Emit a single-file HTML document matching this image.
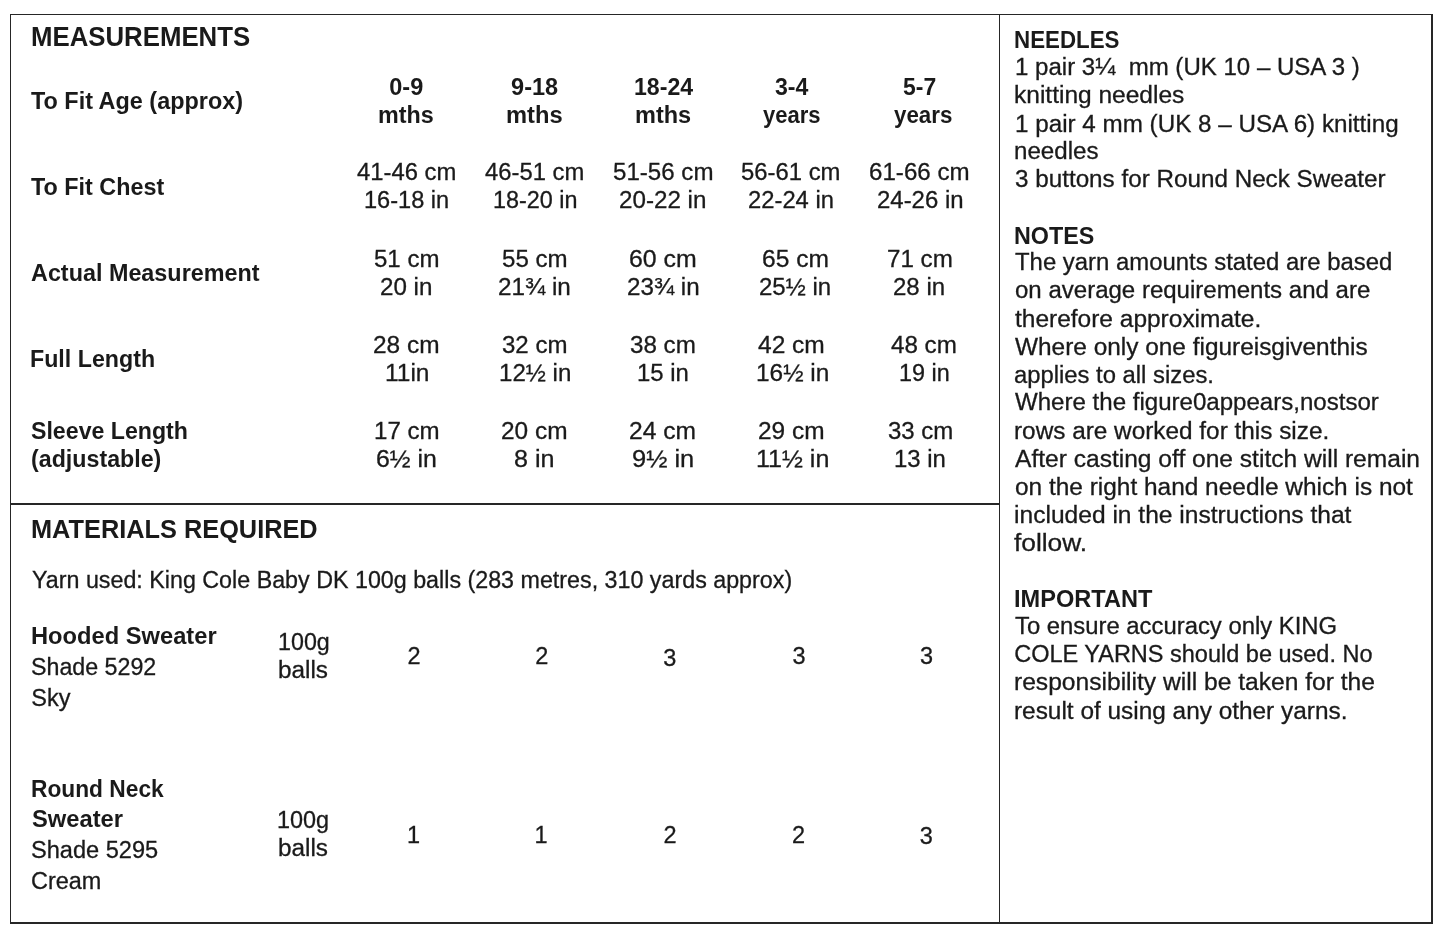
<!DOCTYPE html>
<html><head><meta charset="utf-8"><style>
html,body{margin:0;padding:0;background:#fff;width:1445px;height:937px;overflow:hidden}
body{position:relative;font-family:"Liberation Sans",sans-serif;color:#1a1a1a;filter:grayscale(1)}
span{position:absolute;white-space:pre;line-height:normal;transform-origin:0 0;-webkit-text-stroke:0.3px #1a1a1a}
span.b{-webkit-text-stroke:0}
.ln{position:absolute;background:#262626}
</style></head><body>
<div class="ln" style="left:9.5px;top:13.8px;width:1423.4px;height:1.4px"></div>
<div class="ln" style="left:9.5px;top:922.4px;width:1423.4px;height:1.4px"></div>
<div class="ln" style="left:9.5px;top:13.7px;width:1.6px;height:910.2px"></div>
<div class="ln" style="left:1431.3px;top:13.7px;width:1.6px;height:910.2px"></div>
<div class="ln" style="left:998.6px;top:13.7px;width:1.6px;height:910.2px"></div>
<div class="ln" style="left:9.5px;top:503.2px;width:990px;height:1.4px"></div>
<span class="b" style="left:31.47px;top:21.65px;font-size:26.9px;font-weight:bold;transform:scaleX(0.9587)">MEASUREMENTS</span>
<span class="b" style="left:31.10px;top:87.63px;font-size:23.5px;font-weight:bold;transform:scaleX(0.9963)">To Fit Age (approx)</span>
<span class="b" style="left:31.10px;top:174.13px;font-size:23.5px;font-weight:bold;transform:scaleX(0.9936)">To Fit Chest</span>
<span class="b" style="left:30.50px;top:259.83px;font-size:23.5px;font-weight:bold;transform:scaleX(0.9944)">Actual Measurement</span>
<span class="b" style="left:30.12px;top:345.83px;font-size:23.5px;font-weight:bold;transform:scaleX(0.9877)">Full Length</span>
<span class="b" style="left:31.11px;top:418.03px;font-size:23.5px;font-weight:bold;transform:scaleX(0.9852)">Sleeve Length</span>
<span class="b" style="left:30.52px;top:446.03px;font-size:23.5px;font-weight:bold;transform:scaleX(0.9883)">(adjustable)</span>
<span class="b" style="left:389.30px;top:73.63px;font-size:23.5px;font-weight:bold">0-9</span>
<span class="b" style="left:377.91px;top:101.53px;font-size:23.5px;font-weight:bold;transform:scaleX(0.9919)">mths</span>
<span class="b" style="left:511.10px;top:73.63px;font-size:23.5px;font-weight:bold">9-18</span>
<span class="b" style="left:506.29px;top:101.53px;font-size:23.5px;font-weight:bold;transform:scaleX(1.0086)">mths</span>
<span class="b" style="left:633.93px;top:73.63px;font-size:23.5px;font-weight:bold;transform:scaleX(0.9846)">18-24</span>
<span class="b" style="left:635.00px;top:101.53px;font-size:23.5px;font-weight:bold">mths</span>
<span class="b" style="left:775.21px;top:73.63px;font-size:23.5px;font-weight:bold;transform:scaleX(0.9831)">3-4</span>
<span class="b" style="left:763.14px;top:101.53px;font-size:23.5px;font-weight:bold;transform:scaleX(0.9368)">years</span>
<span class="b" style="left:903.21px;top:73.63px;font-size:23.5px;font-weight:bold;transform:scaleX(0.9770)">5-7</span>
<span class="b" style="left:894.23px;top:101.53px;font-size:23.5px;font-weight:bold;transform:scaleX(0.9500)">years</span>
<span style="left:356.59px;top:158.73px;font-size:23.5px;transform:scaleX(1.0141)">41-46 cm</span>
<span style="left:363.99px;top:186.53px;font-size:23.5px;transform:scaleX(1.0035)">16-18 in</span>
<span style="left:485.19px;top:158.73px;font-size:23.5px;transform:scaleX(1.0130)">46-51 cm</span>
<span style="left:493.21px;top:186.53px;font-size:23.5px;transform:scaleX(0.9949)">18-20 in</span>
<span style="left:613.18px;top:158.73px;font-size:23.5px;transform:scaleX(1.0255)">51-56 cm</span>
<span style="left:619.45px;top:186.53px;font-size:23.5px;transform:scaleX(1.0292)">20-22 in</span>
<span style="left:741.49px;top:158.73px;font-size:23.5px;transform:scaleX(1.0151)">56-61 cm</span>
<span style="left:748.38px;top:186.53px;font-size:23.5px;transform:scaleX(1.0121)">22-24 in</span>
<span style="left:869.26px;top:158.73px;font-size:23.5px;transform:scaleX(1.0268)">61-66 cm</span>
<span style="left:876.67px;top:186.53px;font-size:23.5px;transform:scaleX(1.0194)">24-26 in</span>
<span style="left:373.69px;top:245.63px;font-size:23.5px;transform:scaleX(1.0228)">51 cm</span>
<span style="left:380.15px;top:273.63px;font-size:23.5px;transform:scaleX(1.0282)">20 in</span>
<span style="left:502.28px;top:245.63px;font-size:23.5px;transform:scaleX(1.0244)">55 cm</span>
<span style="left:498.25px;top:273.63px;font-size:23.5px;transform:scaleX(1.0319)">21¾ in</span>
<span style="left:628.60px;top:245.63px;font-size:23.5px;transform:scaleX(1.0590)">60 cm</span>
<span style="left:626.85px;top:273.63px;font-size:23.5px;transform:scaleX(1.0289)">23¾ in</span>
<span style="left:761.72px;top:245.63px;font-size:23.5px;transform:scaleX(1.0460)">65 cm</span>
<span style="left:758.86px;top:273.63px;font-size:23.5px;transform:scaleX(1.0215)">25½ in</span>
<span style="left:887.15px;top:245.63px;font-size:23.5px;transform:scaleX(1.0281)">71 cm</span>
<span style="left:893.46px;top:273.63px;font-size:23.5px;transform:scaleX(1.0220)">28 in</span>
<span style="left:372.93px;top:332.13px;font-size:23.5px;transform:scaleX(1.0395)">28 cm</span>
<span style="left:384.93px;top:360.33px;font-size:23.5px;transform:scaleX(1.0410)">11in</span>
<span style="left:502.49px;top:332.13px;font-size:23.5px;transform:scaleX(1.0228)">32 cm</span>
<span style="left:498.76px;top:360.33px;font-size:23.5px;transform:scaleX(1.0245)">12½ in</span>
<span style="left:630.48px;top:332.13px;font-size:23.5px;transform:scaleX(1.0292)">38 cm</span>
<span style="left:637.47px;top:360.33px;font-size:23.5px;transform:scaleX(1.0178)">15 in</span>
<span style="left:757.97px;top:332.13px;font-size:23.5px;transform:scaleX(1.0436)">42 cm</span>
<span style="left:755.64px;top:360.33px;font-size:23.5px;transform:scaleX(1.0378)">16½ in</span>
<span style="left:890.88px;top:332.13px;font-size:23.5px;transform:scaleX(1.0292)">48 cm</span>
<span style="left:898.71px;top:360.33px;font-size:23.5px;transform:scaleX(0.9948)">19 in</span>
<span style="left:373.86px;top:417.93px;font-size:23.5px;transform:scaleX(1.0248)">17 cm</span>
<span style="left:376.00px;top:445.93px;font-size:23.5px;transform:scaleX(1.0592)">6½ in</span>
<span style="left:501.43px;top:417.93px;font-size:23.5px;transform:scaleX(1.0395)">20 cm</span>
<span style="left:514.39px;top:445.93px;font-size:23.5px;transform:scaleX(1.0696)">8 in</span>
<span style="left:629.42px;top:417.93px;font-size:23.5px;transform:scaleX(1.0460)">24 cm</span>
<span style="left:631.56px;top:445.93px;font-size:23.5px;transform:scaleX(1.0832)">9½ in</span>
<span style="left:758.23px;top:417.93px;font-size:23.5px;transform:scaleX(1.0395)">29 cm</span>
<span style="left:755.59px;top:445.93px;font-size:23.5px;transform:scaleX(1.0654)">11½ in</span>
<span style="left:887.79px;top:417.93px;font-size:23.5px;transform:scaleX(1.0212)">33 cm</span>
<span style="left:894.27px;top:445.93px;font-size:23.5px;transform:scaleX(1.0178)">13 in</span>
<span class="b" style="left:31.07px;top:513.70px;font-size:26.4px;font-weight:bold;transform:scaleX(0.9600)">MATERIALS REQUIRED</span>
<span style="left:31.91px;top:566.93px;font-size:23.5px;transform:scaleX(0.9902)">Yarn used: King Cole Baby DK 100g balls (283 metres, 310 yards approx)</span>
<span class="b" style="left:31.19px;top:622.73px;font-size:23.5px;font-weight:bold;transform:scaleX(1.0080)">Hooded Sweater</span>
<span style="left:31.32px;top:654.43px;font-size:23.5px;transform:scaleX(0.9883)">Shade 5292</span>
<span style="left:31.30px;top:684.73px;font-size:23.5px">Sky</span>
<span style="left:277.82px;top:628.73px;font-size:23.5px;transform:scaleX(0.9905)">100g</span>
<span style="left:277.94px;top:656.73px;font-size:23.5px;transform:scaleX(1.0342)">balls</span>
<span style="left:407.40px;top:642.63px;font-size:23.5px">2</span>
<span style="left:535.30px;top:642.63px;font-size:23.5px">2</span>
<span style="left:663.30px;top:644.53px;font-size:23.5px">3</span>
<span style="left:792.40px;top:643.13px;font-size:23.5px">3</span>
<span style="left:920.10px;top:643.13px;font-size:23.5px">3</span>
<span class="b" style="left:31.15px;top:775.93px;font-size:23.5px;font-weight:bold;transform:scaleX(0.9677)">Round Neck</span>
<span class="b" style="left:31.69px;top:805.63px;font-size:23.5px;font-weight:bold;transform:scaleX(1.0096)">Sweater</span>
<span style="left:31.29px;top:837.13px;font-size:23.5px;transform:scaleX(1.0036)">Shade 5295</span>
<span style="left:31.10px;top:868.13px;font-size:23.5px;transform:scaleX(0.9971)">Cream</span>
<span style="left:277.31px;top:807.23px;font-size:23.5px;transform:scaleX(0.9966)">100g</span>
<span style="left:277.94px;top:835.33px;font-size:23.5px;transform:scaleX(1.0342)">balls</span>
<span style="left:406.90px;top:821.83px;font-size:23.5px">1</span>
<span style="left:534.50px;top:821.83px;font-size:23.5px">1</span>
<span style="left:663.50px;top:821.83px;font-size:23.5px">2</span>
<span style="left:792.10px;top:821.83px;font-size:23.5px">2</span>
<span style="left:919.80px;top:822.73px;font-size:23.5px">3</span>
<span class="b" style="left:1014.28px;top:27.03px;font-size:23.5px;font-weight:bold;transform:scaleX(0.9503)">NEEDLES</span>
<span style="left:1015.06px;top:53.53px;font-size:23.5px;transform:scaleX(1.0233)">1 pair 3¼  mm (UK 10 – USA 3 )</span>
<span style="left:1014.13px;top:82.03px;font-size:23.5px;transform:scaleX(1.0429)">knitting needles</span>
<span style="left:1015.05px;top:110.53px;font-size:23.5px;transform:scaleX(1.0307)">1 pair 4 mm (UK 8 – USA 6) knitting</span>
<span style="left:1014.16px;top:138.23px;font-size:23.5px;transform:scaleX(1.0260)">needles</span>
<span style="left:1015.48px;top:165.93px;font-size:23.5px;transform:scaleX(1.0314)">3 buttons for Round Neck Sweater</span>
<span class="b" style="left:1014.21px;top:222.53px;font-size:23.5px;font-weight:bold;transform:scaleX(0.9918)">NOTES</span>
<span style="left:1015.49px;top:248.73px;font-size:23.5px;transform:scaleX(1.0168)">The yarn amounts stated are based</span>
<span style="left:1015.19px;top:277.33px;font-size:23.5px;transform:scaleX(1.0223)">on average requirements and are</span>
<span style="left:1015.17px;top:305.93px;font-size:23.5px;transform:scaleX(1.0416)">therefore approximate.</span>
<span style="left:1015.48px;top:333.93px;font-size:23.5px;transform:scaleX(1.0384)">Where only one figureisgiventhis</span>
<span style="left:1014.18px;top:361.93px;font-size:23.5px;transform:scaleX(1.0136)">applies to all sizes.</span>
<span style="left:1015.48px;top:389.33px;font-size:23.5px;transform:scaleX(1.0241)">Where the figure0appears,nostsor</span>
<span style="left:1014.14px;top:417.93px;font-size:23.5px;transform:scaleX(1.0358)">rows are worked for this size.</span>
<span style="left:1015.17px;top:445.93px;font-size:23.5px;transform:scaleX(1.0452)">After casting off one stitch will remain</span>
<span style="left:1015.17px;top:473.73px;font-size:23.5px;transform:scaleX(1.0394)">on the right hand needle which is not</span>
<span style="left:1014.12px;top:501.73px;font-size:23.5px;transform:scaleX(1.0458)">included in the instructions that</span>
<span style="left:1014.42px;top:529.73px;font-size:23.5px;transform:scaleX(1.1188)">follow.</span>
<span class="b" style="left:1014.19px;top:586.13px;font-size:23.5px;font-weight:bold;transform:scaleX(1.0034)">IMPORTANT</span>
<span style="left:1015.19px;top:613.13px;font-size:23.5px;transform:scaleX(1.0147)">To ensure accuracy only KING</span>
<span style="left:1014.20px;top:641.23px;font-size:23.5px">COLE YARNS should be used. No</span>
<span style="left:1014.12px;top:669.03px;font-size:23.5px;transform:scaleX(1.0466)">responsibility will be taken for the</span>
<span style="left:1014.14px;top:697.63px;font-size:23.5px;transform:scaleX(1.0376)">result of using any other yarns.</span>
</body></html>
